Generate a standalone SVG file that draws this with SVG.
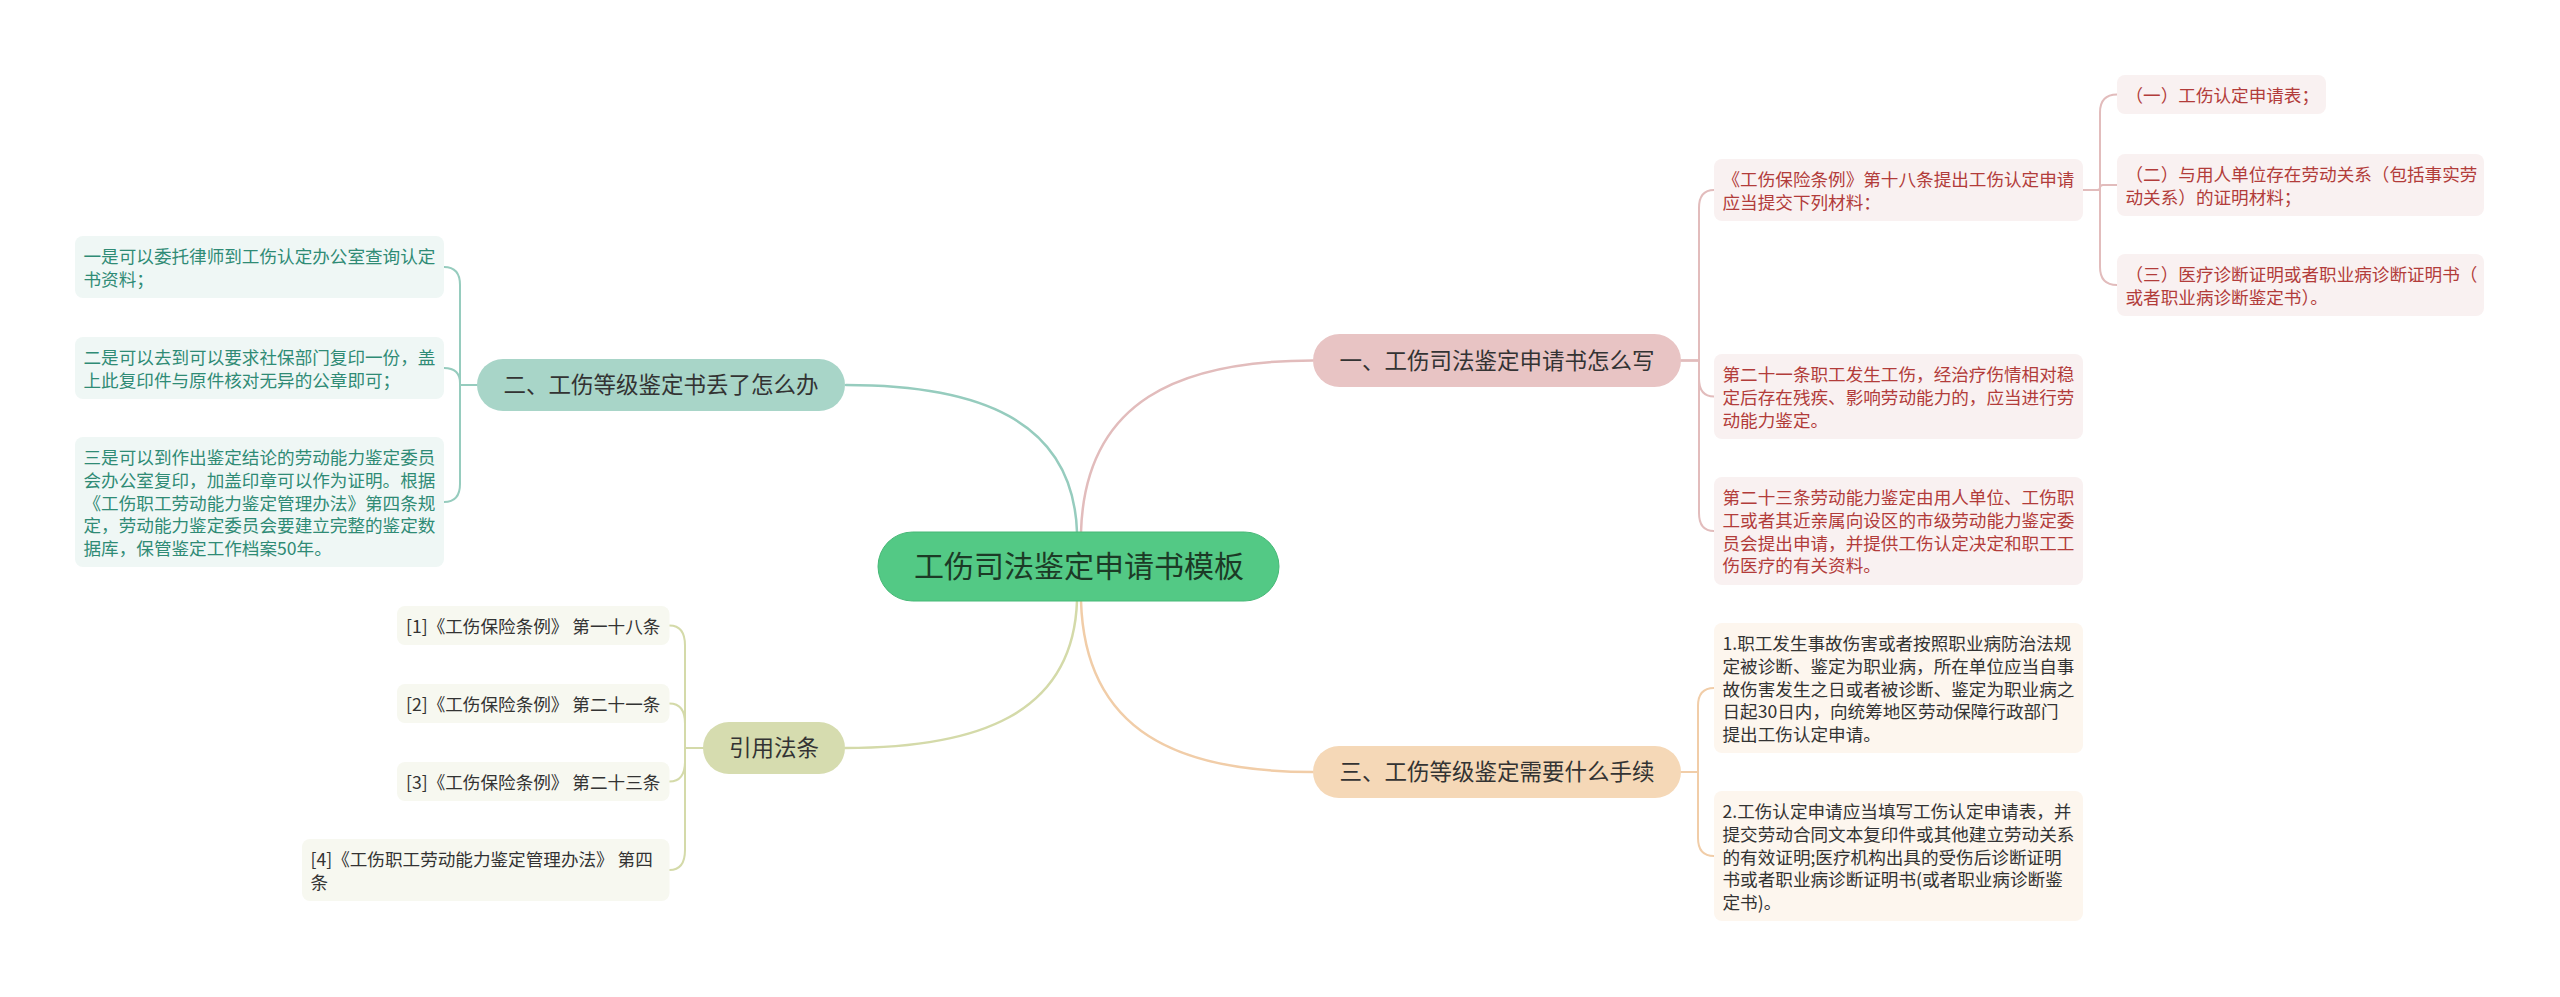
<svg xmlns="http://www.w3.org/2000/svg" width="2560" height="997" viewBox="0 0 2560 997">
<style>
text{font-family:"Noto Sans CJK SC","Noto Sans",sans-serif}
.c{fill:none;stroke-linecap:round;stroke-linejoin:round}
.m{stroke-width:2.5}
.s{stroke-width:2}
.pk{stroke:#e2bcbc}
.tl{stroke:#96ccbe}
.pc{stroke:#f1cda8}
.ol{stroke:#d4daa9}
.root{fill:#53c985;stroke:#47b877;stroke-width:1}
.rt{font-size:30px;fill:#1c3a26;text-anchor:middle}
.bt{font-size:22.5px;fill:#333333;text-anchor:middle}
.b1{fill:#e8c4c4}
.b2{fill:#a8d5c8}
.b3{fill:#f5d8b7}
.b4{fill:#d6dcaf}
.ct{font-size:17.6px}
.k1{fill:#f9f1f1}
.k2{fill:#eff7f5}
.k3{fill:#fdf6ee}
.k4{fill:#f7f8f0}
.t1{fill:#b23c3a}
.t2{fill:#2f8b75}
.t3{fill:#333333}
</style>
<rect width="2560" height="997" fill="#ffffff"/>
<g id="connectors">
<path class="c m pk" d="M1081 532 C1085 400 1180 360.5 1313 360.5"/>
<path class="c m tl" d="M1077 532 C1073 419 977 385 846 385"/>
<path class="c m pc" d="M1081 601 C1085 733 1180 772 1313 772"/>
<path class="c m ol" d="M1077 601 C1073 715 977 748 845 748"/>
<path class="c s pk" d="M1681 360.5 H1699 V208 Q1699 190 1714 190"/>
<path class="c s pk" d="M1681 360.5 H1699 V378.5 Q1699 396.5 1714 396.5"/>
<path class="c s pk" d="M1681 360.5 H1699 V513 Q1699 531 1714 531"/>
<path class="c s pk" d="M2083 190 H2100 V112.5 Q2100 94.5 2117 94.5"/>
<path class="c s pk" d="M2083 190 H2097 Q2100 190 2100 187.5 Q2100 185 2103 185 H2117"/>
<path class="c s pk" d="M2083 190 H2100 V267 Q2100 285 2117 285"/>
<path class="c s pc" d="M1680 772 H1698 V706 Q1698 688 1714 688"/>
<path class="c s pc" d="M1680 772 H1698 V838 Q1698 856 1714 856"/>
<path class="c s tl" d="M477 385 H460 V285 Q460 267 444 267"/>
<path class="c s tl" d="M477 385 H460 V383 Q460 368 444 368"/>
<path class="c s tl" d="M477 385 H460 V484 Q460 502 444 502"/>
<path class="c s ol" d="M703 748 H685 V645.5 Q685 625.5 669.5 625.5"/>
<path class="c s ol" d="M703 748 H685 V723.5 Q685 703.5 669.5 703.5"/>
<path class="c s ol" d="M703 748 H685 V761.5 Q685 781.5 669.5 781.5"/>
<path class="c s ol" d="M703 748 H685 V850 Q685 870 669.5 870"/>
</g>
<g id="root">
<rect class="root" x="878" y="532" width="401" height="69" rx="34.5"/>
<text class="rt" x="1079" y="577">工伤司法鉴定申请书模板</text>
</g>
<g id="branch1">
<rect class="b1" x="1313" y="334" width="368" height="53" rx="26.5"/>
<text class="bt" x="1497" y="369">一、工伤司法鉴定申请书怎么写</text>
</g>
<g id="branch2">
<rect class="b2" x="477" y="359" width="368" height="52" rx="26"/>
<text class="bt" x="661" y="393">二、工伤等级鉴定书丢了怎么办</text>
</g>
<g id="branch3">
<rect class="b3" x="1313" y="746" width="368" height="52" rx="26"/>
<text class="bt" x="1497" y="780">三、工伤等级鉴定需要什么手续</text>
</g>
<g id="branch4">
<rect class="b4" x="703" y="722" width="142" height="52" rx="26"/>
<text class="bt" x="774" y="756">引用法条</text>
</g>
<g id="n1a">
<rect class="k1" x="1714" y="159" width="369" height="62" rx="8"/>
<text class="ct t1" x="1722.5" y="186"><tspan x="1722.5">《工伤保险条例》第十八条提出工伤认定申请</tspan><tspan x="1722.5" dy="22.75">应当提交下列材料：</tspan></text>
</g>
<g id="n1b">
<rect class="k1" x="1714" y="354" width="369" height="85" rx="8"/>
<text class="ct t1" x="1722.5" y="381"><tspan x="1722.5">第二十一条职工发生工伤，经治疗伤情相对稳</tspan><tspan x="1722.5" dy="22.75">定后存在残疾、影响劳动能力的，应当进行劳</tspan><tspan x="1722.5" dy="22.75">动能力鉴定。</tspan></text>
</g>
<g id="n1c">
<rect class="k1" x="1714" y="477" width="369" height="108" rx="8"/>
<text class="ct t1" x="1722.5" y="504"><tspan x="1722.5">第二十三条劳动能力鉴定由用人单位、工伤职</tspan><tspan x="1722.5" dy="22.75">工或者其近亲属向设区的市级劳动能力鉴定委</tspan><tspan x="1722.5" dy="22.75">员会提出申请，并提供工伤认定决定和职工工</tspan><tspan x="1722.5" dy="22.75">伤医疗的有关资料。</tspan></text>
</g>
<g id="n1a1">
<rect class="k1" x="2117" y="75" width="209" height="39" rx="8"/>
<text class="ct t1" x="2125.5" y="102">（一）工伤认定申请表；</text>
</g>
<g id="n1a2">
<rect class="k1" x="2117" y="154" width="367" height="62" rx="8"/>
<text class="ct t1" x="2125.5" y="181"><tspan x="2125.5">（二）与用人单位存在劳动关系（包括事实劳</tspan><tspan x="2125.5" dy="22.75">动关系）的证明材料；</tspan></text>
</g>
<g id="n1a3">
<rect class="k1" x="2117" y="254" width="367" height="62" rx="8"/>
<text class="ct t1" x="2125.5" y="281"><tspan x="2125.5">（三）医疗诊断证明或者职业病诊断证明书（</tspan><tspan x="2125.5" dy="22.75">或者职业病诊断鉴定书）。</tspan></text>
</g>
<g id="n3a">
<rect class="k3" x="1714" y="623" width="369" height="130" rx="8"/>
<text class="ct t3" x="1722.5" y="650"><tspan x="1722.5">1.职工发生事故伤害或者按照职业病防治法规</tspan><tspan x="1722.5" dy="22.75">定被诊断、鉴定为职业病，所在单位应当自事</tspan><tspan x="1722.5" dy="22.75">故伤害发生之日或者被诊断、鉴定为职业病之</tspan><tspan x="1722.5" dy="22.75">日起30日内，向统筹地区劳动保障行政部门</tspan><tspan x="1722.5" dy="22.75">提出工伤认定申请。</tspan></text>
</g>
<g id="n3b">
<rect class="k3" x="1714" y="791" width="369" height="130" rx="8"/>
<text class="ct t3" x="1722.5" y="818"><tspan x="1722.5">2.工伤认定申请应当填写工伤认定申请表，并</tspan><tspan x="1722.5" dy="22.75">提交劳动合同文本复印件或其他建立劳动关系</tspan><tspan x="1722.5" dy="22.75">的有效证明;医疗机构出具的受伤后诊断证明</tspan><tspan x="1722.5" dy="22.75">书或者职业病诊断证明书(或者职业病诊断鉴</tspan><tspan x="1722.5" dy="22.75">定书)。</tspan></text>
</g>
<g id="n2a">
<rect class="k2" x="75" y="236" width="369" height="62" rx="8"/>
<text class="ct t2" x="83.5" y="263"><tspan x="83.5">一是可以委托律师到工伤认定办公室查询认定</tspan><tspan x="83.5" dy="22.75">书资料；</tspan></text>
</g>
<g id="n2b">
<rect class="k2" x="75" y="337" width="369" height="62" rx="8"/>
<text class="ct t2" x="83.5" y="364"><tspan x="83.5">二是可以去到可以要求社保部门复印一份，盖</tspan><tspan x="83.5" dy="22.75">上此复印件与原件核对无异的公章即可；</tspan></text>
</g>
<g id="n2c">
<rect class="k2" x="75" y="437" width="369" height="130" rx="8"/>
<text class="ct t2" x="83.5" y="464"><tspan x="83.5">三是可以到作出鉴定结论的劳动能力鉴定委员</tspan><tspan x="83.5" dy="22.75">会办公室复印，加盖印章可以作为证明。根据</tspan><tspan x="83.5" dy="22.75">《工伤职工劳动能力鉴定管理办法》第四条规</tspan><tspan x="83.5" dy="22.75">定，劳动能力鉴定委员会要建立完整的鉴定数</tspan><tspan x="83.5" dy="22.75">据库，保管鉴定工作档案50年。</tspan></text>
</g>
<g id="n4a">
<rect class="k4" x="397" y="606" width="272.5" height="39" rx="8"/>
<text class="ct t3" x="406" y="633">[1]《工伤保险条例》 第一十八条</text>
</g>
<g id="n4b">
<rect class="k4" x="397" y="684" width="272.5" height="39" rx="8"/>
<text class="ct t3" x="406" y="711">[2]《工伤保险条例》 第二十一条</text>
</g>
<g id="n4c">
<rect class="k4" x="397" y="762" width="272.5" height="39" rx="8"/>
<text class="ct t3" x="406" y="789">[3]《工伤保险条例》 第二十三条</text>
</g>
<g id="n4d">
<rect class="k4" x="302" y="839" width="367.5" height="62" rx="8"/>
<text class="ct t3" x="310.5" y="866"><tspan x="310.5">[4]《工伤职工劳动能力鉴定管理办法》 第四</tspan><tspan x="310.5" dy="22.75">条</tspan></text>
</g>
</svg>
